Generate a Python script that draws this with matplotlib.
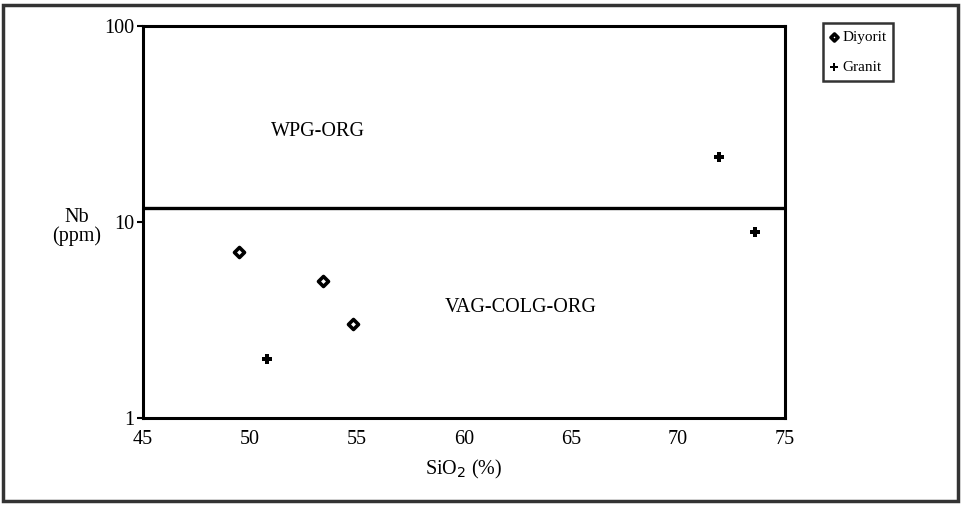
import matplotlib
matplotlib.use("Agg")
import matplotlib.pyplot as plt
from matplotlib.patches import Rectangle

# Data
diyorit_sio2 = [49.5, 53.4, 54.8]
diyorit_nb = [7.0, 5.0, 3.0]
granit_sio2 = [50.8, 71.9, 73.6]
granit_nb = [2.0, 21.5, 8.9]
boundary_nb = 11.8
x_ticks = [45, 50, 55, 60, 65, 70, 75]
y_ticks = [1, 10, 100]

plt.rcParams['font.family'] = ['Liberation Serif', 'DejaVu Serif']

fig = plt.figure(figsize=(9.62, 5.05), dpi=100)
ax = fig.add_axes([143/962, 1-418/505, 642/962, 392/505])

ax.set_yscale('log')
ax.set_xlim(45, 75)
ax.set_ylim(1, 100)

ax.axhline(boundary_nb, color='black', lw=2.4)

ax.scatter(diyorit_sio2, diyorit_nb, marker='D', s=26, facecolor='white',
           edgecolor='black', linewidths=2.6, label='Diyorit', zorder=3)
ax.scatter(granit_sio2, granit_nb, marker='P', s=55, color='black',
           linewidths=0, label='Granit', zorder=3)

ax.text(51.0, 29, 'WPG-ORG', fontsize=14.5, ha='left', va='center')
ax.text(62.66, 3.65, 'VAG-COLG-ORG', fontsize=14.5, ha='center', va='center')

ax.set_xticks(x_ticks)
ax.set_xticklabels([str(v) for v in x_ticks], fontsize=14.5)
ax.set_yticks(y_ticks)
ax.set_yticklabels([str(v) for v in y_ticks], fontsize=14.5)
ax.yaxis.set_minor_locator(matplotlib.ticker.NullLocator())
ax.tick_params(axis='x', length=0, pad=9)
ax.tick_params(axis='y', length=4, width=1.5, pad=2)
for s in ax.spines.values():
    s.set_linewidth(2.2)

ax.set_xlabel('SiO$_2$ (%)', fontsize=14.5, labelpad=6)
fig.text(77/962, 1-227/505, 'Nb\n(ppm)', fontsize=14.5, ha='center', va='center',
         linespacing=0.95)

leg = ax.legend(loc='upper left', bbox_to_anchor=(823/962, 1-23/505),
                bbox_transform=fig.transFigure, fontsize=11, frameon=True,
                fancybox=False, edgecolor='black', handlelength=0.5,
                handletextpad=0.3, borderpad=0.45, labelspacing=1.1,
                markerscale=0.7, borderaxespad=0)
leg.get_frame().set_linewidth(1.8)

fig.patches.append(Rectangle((3/962, 4/505), 955/962, 496/505, transform=fig.transFigure,
                             fill=False, edgecolor='#333333', lw=2.5))

fig.savefig('out.png', dpi=100)
